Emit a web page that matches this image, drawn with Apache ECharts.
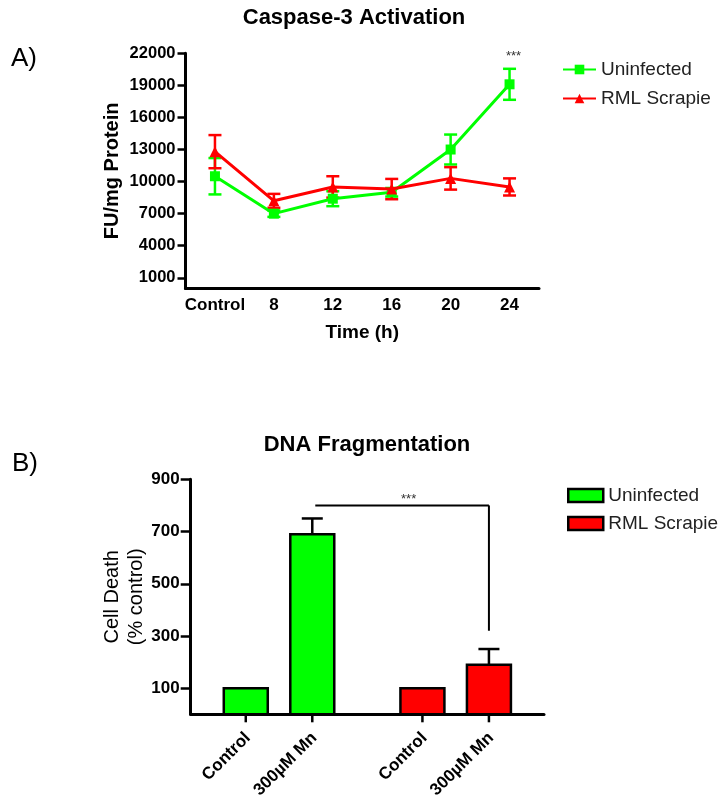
<!DOCTYPE html>
<html><head><meta charset="utf-8">
<script src="https://cdn.jsdelivr.net/npm/echarts@6/dist/echarts.min.js"></script>
<style>html,body{margin:0;padding:0;background:#fff}#c{width:726px;height:804px}</style>
</head><body><div id="c"></div>
<script>
// ---------- DATA ----------
const timeLabels = ['Control', '8', '12', '16', '20', '24'];
const uninfectedA = [10500, 7000, 8400, 9000, 13000, 19100];
const uninfectedAErr = [1700, 300, 700, 400, 1400, 1450];
const scrapieA = [12800, 8200, 9500, 9300, 10300, 9500];
const scrapieAErr = [1550, 650, 1000, 950, 1050, 800];
const yTicksA = { min: 1000, max: 22000, step: 3000 };
const sigA = { category: 5, value: 21700, text: '***' };

const groupsB = ['Uninfected', 'RML Scrapie'];
const treatmentsB = ['Control', '300µM Mn'];
const uninfectedB = [100, 690];
const uninfectedBErr = [0, 60];
const scrapieB = [100, 190];
const scrapieBErr = [0, 60];
const yTicksB = { min: 100, max: 900, step: 200 };
const sigB = { fromGroup: 0, toGroup: 1, treatment: 1, level: 800, drop: 320, text: '***' };

// ---------- STYLE ----------
const GREEN = '#00ff00', RED = '#ff0000', BLACK = '#000';
const FONT = 'Liberation Sans, Arial, sans-serif';

const chart = echarts.init(document.getElementById('c'), null, { renderer: 'canvas' });

function errRender(color) {
  return function (params, api) {
    const i = api.value(0), v = api.value(1), e = api.value(2);
    const top = api.coord([i, v + e]);
    const bot = api.coord([i, v - e]);
    const half = 6.5;
    const st = { stroke: color, lineWidth: 2.5 };
    return { type: 'group', children: [
      { type: 'line', shape: { x1: top[0], y1: top[1], x2: bot[0], y2: bot[1] }, style: st },
      { type: 'line', shape: { x1: top[0] - half, y1: top[1], x2: top[0] + half, y2: top[1] }, style: st },
      { type: 'line', shape: { x1: bot[0] - half, y1: bot[1], x2: bot[0] + half, y2: bot[1] }, style: st }
    ]};
  };
}

// bar geometry inside a group band (fractions of band width)
const BAR_OFFSET = 0.3765, BAR_WIDTH = 0.249;

function barRender(color) {
  return function (params, api) {
    const g = api.value(0), t = api.value(1), v = api.value(2), e = api.value(3);
    const band = api.size([1, 0])[0];
    const base = api.coord([g, 0]);
    const x = base[0] + (t - 0.5) * band * BAR_OFFSET;
    const w = band * BAR_WIDTH;
    const top = api.coord([g, v])[1];
    const children = [];
    if (e > 0) {
      const et = api.coord([g, v + e])[1];
      children.push({ type: 'line', shape: { x1: x, y1: top, x2: x, y2: et }, style: { stroke: BLACK, lineWidth: 2.5 } });
      children.push({ type: 'line', shape: { x1: x - 10.5, y1: et, x2: x + 10.5, y2: et }, style: { stroke: BLACK, lineWidth: 2.5 } });
    }
    children.push({ type: 'rect', shape: { x: x - w / 2, y: top, width: w, height: base[1] - top },
      style: { fill: color, stroke: BLACK, lineWidth: 2.5 } });
    children.push({ type: 'line', shape: { x1: x, y1: base[1], x2: x, y2: base[1] + 8 }, style: { stroke: BLACK, lineWidth: 2.5 } });
    children.push({ type: 'text', x: x + 2, y: base[1] + 21, rotation: Math.PI / 4,
      style: { text: treatmentsB[t], align: 'right', verticalAlign: 'middle', fill: BLACK,
        font: 'bold 17px ' + FONT } });
    return { type: 'group', children };
  };
}

const option = {
  backgroundColor: '#fff',
  animation: false,
  title: [
    { text: 'Caspase-3 Activation', left: 349, top: 2, textAlign: 'center',
      textStyle: { fontFamily: FONT, fontWeight: 'bold', fontSize: 22, color: BLACK } },
    { text: 'DNA Fragmentation', left: 362, top: 429, textAlign: 'center',
      textStyle: { fontFamily: FONT, fontWeight: 'bold', fontSize: 22, color: BLACK } },
    { text: 'A)', left: 6, top: 41, textStyle: { fontFamily: FONT, fontWeight: 'normal', fontSize: 26, color: BLACK } },
    { text: 'B)', left: 7, top: 446, textStyle: { fontFamily: FONT, fontWeight: 'normal', fontSize: 26, color: BLACK } }
  ],
  legend: [
    { orient: 'vertical', left: 562, top: 60, padding: 0, itemWidth: 33, itemHeight: 12, itemGap: 10,
      data: ['Uninfected', 'RML Scrapie'],
      textStyle: { fontFamily: FONT, fontSize: 19, color: '#222', lineHeight: 18 } },
    { orient: 'vertical', left: 567, top: 486, padding: 0, itemWidth: 35, itemHeight: 13, itemGap: 9,
      data: [
        { name: 'Uninfected', icon: 'rect', itemStyle: { color: GREEN, borderColor: BLACK, borderWidth: 2.5 } },
        { name: 'RML Scrapie', icon: 'rect', itemStyle: { color: RED, borderColor: BLACK, borderWidth: 2.5 } }
      ],
      textStyle: { fontFamily: FONT, fontSize: 19, color: '#222', lineHeight: 18 } }
  ],
  grid: [
    { left: 185.5, width: 353.5, top: 53.3, height: 235.2 },
    { left: 185.5, width: 353.5, top: 53.3, height: 224.5 },
    { left: 190.7, width: 353.3, top: 479.3, height: 235 },
    { left: 190.7, width: 353.3, top: 479.3, height: 208.9 }
  ],
  xAxis: [
    { gridIndex: 0, type: 'category', data: timeLabels, boundaryGap: true,
      axisLine: { lineStyle: { color: BLACK, width: 3 } },
      axisTick: { alignWithLabel: true, interval: 0, length: 7, lineStyle: { color: BLACK, width: 2.5 } },
      axisLabel: { interval: 0, color: BLACK, fontFamily: FONT, fontWeight: 'bold', fontSize: 17, margin: 8 },
      name: 'Time (h)', nameLocation: 'middle', nameGap: 35,
      nameTextStyle: { color: BLACK, fontFamily: FONT, fontWeight: 'bold', fontSize: 19 } },
    { gridIndex: 1, type: 'category', data: timeLabels, show: false },
    { gridIndex: 2, type: 'category', data: groupsB, boundaryGap: true,
      axisLine: { lineStyle: { color: BLACK, width: 3 } },
      axisTick: { show: false }, axisLabel: { show: false } },
    { gridIndex: 3, type: 'category', data: groupsB, show: false }
  ],
  yAxis: [
    { gridIndex: 0, type: 'value', min: 0, max: yTicksA.max,
      axisLine: { show: true, lineStyle: { color: BLACK, width: 3 } },
      axisTick: { show: false }, axisLabel: { show: false }, splitLine: { show: false },
      name: 'FU/mg Protein', nameLocation: 'middle', nameRotate: 90, nameGap: 63,
      nameTextStyle: { color: BLACK, fontFamily: FONT, fontWeight: 'bold', fontSize: 20 } },
    { gridIndex: 1, type: 'value', min: yTicksA.min, max: yTicksA.max, interval: yTicksA.step,
      axisLine: { show: false }, splitLine: { show: false },
      axisTick: { show: true, length: 8, lineStyle: { color: BLACK, width: 2.5 } },
      axisLabel: { formatter: v => String(v), color: BLACK, fontFamily: FONT, fontWeight: 'bold', fontSize: 16.5, margin: 10 } },
    { gridIndex: 2, type: 'value', min: 0, max: yTicksB.max,
      axisLine: { show: true, lineStyle: { color: BLACK, width: 3 } },
      axisTick: { show: false }, axisLabel: { show: false }, splitLine: { show: false },
      name: 'Cell Death\n(% control)', nameLocation: 'middle', nameRotate: 90, nameGap: 42,
      nameTextStyle: { color: BLACK, fontFamily: FONT, fontWeight: 'normal', fontSize: 20, lineHeight: 24 } },
    { gridIndex: 3, type: 'value', min: yTicksB.min, max: yTicksB.max, interval: yTicksB.step,
      axisLine: { show: false }, splitLine: { show: false },
      axisTick: { show: true, length: 10, lineStyle: { color: BLACK, width: 2.5 } },
      axisLabel: { formatter: v => String(v), color: BLACK, fontFamily: FONT, fontWeight: 'bold', fontSize: 17, margin: 11 } }
  ],
  series: [
    { type: 'custom', xAxisIndex: 0, yAxisIndex: 0, z: 3,
      data: uninfectedA.map((v, i) => [i, v, uninfectedAErr[i]]), renderItem: errRender(GREEN) },
    { type: 'custom', xAxisIndex: 0, yAxisIndex: 0, z: 3,
      data: scrapieA.map((v, i) => [i, v, scrapieAErr[i]]), renderItem: errRender(RED) },
    { name: 'Uninfected', type: 'line', xAxisIndex: 0, yAxisIndex: 0, data: uninfectedA, z: 4,
      color: GREEN, symbol: 'rect', symbolSize: 10, lineStyle: { width: 3, color: GREEN },
      itemStyle: { color: GREEN } },
    { name: 'RML Scrapie', type: 'line', xAxisIndex: 0, yAxisIndex: 0, data: scrapieA, z: 5,
      color: RED, symbol: 'triangle', symbolSize: 11, lineStyle: { width: 3, color: RED },
      itemStyle: { color: RED } },
    { type: 'custom', xAxisIndex: 0, yAxisIndex: 0, data: [[sigA.category, sigA.value]],
      renderItem: function (params, api) {
        const p = api.coord([api.value(0), api.value(1)]);
        return { type: 'text', x: p[0] + 4, y: p[1], style: { text: sigA.text, align: 'center', verticalAlign: 'middle',
          fill: '#333', font: '13px ' + FONT } };
      } },
    { name: 'Uninfected', type: 'custom', xAxisIndex: 2, yAxisIndex: 2, color: GREEN,
      data: uninfectedB.map((v, t) => [0, t, v, uninfectedBErr[t]]), renderItem: barRender(GREEN) },
    { name: 'RML Scrapie', type: 'custom', xAxisIndex: 2, yAxisIndex: 2, color: RED,
      data: scrapieB.map((v, t) => [1, t, v, scrapieBErr[t]]), renderItem: barRender(RED) },
    { type: 'custom', xAxisIndex: 2, yAxisIndex: 2,
      data: [[sigB.fromGroup, sigB.toGroup, sigB.treatment, sigB.level, sigB.drop]],
      renderItem: function (params, api) {
        const band = api.size([1, 0])[0];
        const t = api.value(2);
        const x1 = api.coord([api.value(0), 0])[0] + (t - 0.5) * band * BAR_OFFSET;
        const x2 = api.coord([api.value(1), 0])[0] + (t - 0.5) * band * BAR_OFFSET;
        const y = api.coord([0, api.value(3)])[1];
        const yd = api.coord([0, api.value(4)])[1];
        const st = { stroke: BLACK, lineWidth: 2 };
        return { type: 'group', children: [
          { type: 'line', shape: { x1: x1 + 3, y1: y, x2: x2, y2: y }, style: st },
          { type: 'line', shape: { x1: x2, y1: y, x2: x2, y2: yd }, style: st },
          { type: 'text', x: (x1 + x2) / 2 + 8, y: y - 6, style: { text: sigB.text, align: 'center',
            verticalAlign: 'middle', fill: '#333', font: '13px ' + FONT } }
        ]};
      } }
  ]
};
chart.setOption(option);
</script>
</body></html>
